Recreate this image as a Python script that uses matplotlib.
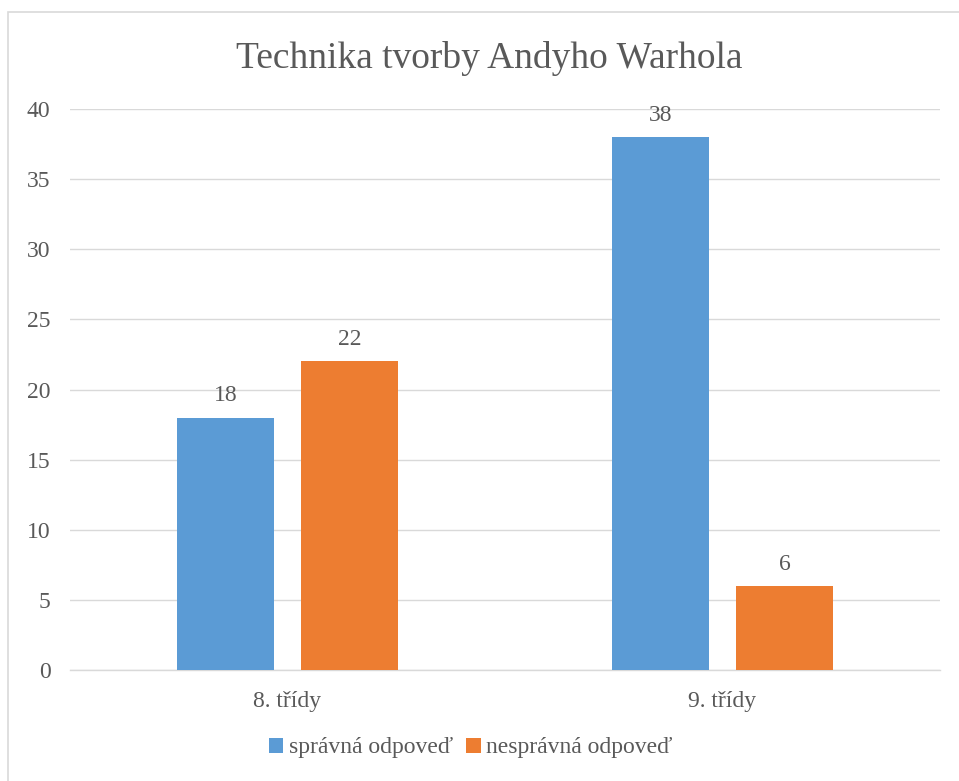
import matplotlib
matplotlib.use("Agg")
import matplotlib.pyplot as plt
import numpy as np
from matplotlib.patches import Rectangle

categories = ["8. třídy", "9. třídy"]
series_names = ["správná odpoveď", "nesprávná odpoveď"]
correct = [18, 38]
incorrect = [22, 6]
yticks = [0, 5, 10, 15, 20, 25, 30, 35, 40]

blue = "#5B9BD5"
orange = "#ED7D31"
txt = "#595959"
grid = "#D9D9D9"

plt.rcParams['font.family'] = ['Liberation Serif', 'DejaVu Serif']

fig = plt.figure(figsize=(9.59, 7.81), dpi=100)
fig.patches.append(Rectangle((8/959, -0.1), 1.2, 1.1 - 12/781, transform=fig.transFigure,
                             fill=False, edgecolor=grid, linewidth=1.2))
ax = fig.add_axes([70/959, 1 - 670/781, 870/959, (670 - 109)/781])

x = np.arange(len(categories))
w = 0.223
off = 0.1425
b1 = ax.bar(x - off, correct, w, color=blue, label=series_names[0], zorder=3)
b2 = ax.bar(x + off, incorrect, w, color=orange, label=series_names[1], zorder=3)

for bars in (b1, b2):
    for r in bars:
        ax.annotate(f"{int(r.get_height())}", (r.get_x() + r.get_width() / 2, r.get_height()),
                    xytext=(0, 8), textcoords="offset points", ha="center", va="bottom",
                    fontsize=17, color=txt)

ax.set_xlim(-0.5, 1.5)
ax.set_ylim(0, 40)
ax.set_yticks(yticks)
ax.yaxis.grid(True, color=grid, linewidth=1, zorder=0)
ax.set_axisbelow(True)
for s in ["top", "right", "left"]:
    ax.spines[s].set_visible(False)
ax.spines["bottom"].set_color(grid)
ax.spines["bottom"].set_linewidth(1)
ax.tick_params(axis="both", length=0, labelsize=17, colors=txt)
ax.tick_params(axis="y", pad=14)
ax.tick_params(axis="x", pad=15)
ax.set_xticks(x)
ax.set_xticklabels(categories)

fig.text(489 / 959, 1 - 58 / 781, "Technika tvorby Andyho Warhola", ha="center", va="center",
         fontsize=27, color=txt)

leg = fig.legend(loc="center", bbox_to_anchor=(471 / 959, 1 - 748 / 781), ncol=2, frameon=False,
                 fontsize=17, handlelength=0.6, handleheight=0.6, handletextpad=0.25,
                 columnspacing=0.55, labelcolor=txt)

fig.savefig("out.png", dpi=100)
